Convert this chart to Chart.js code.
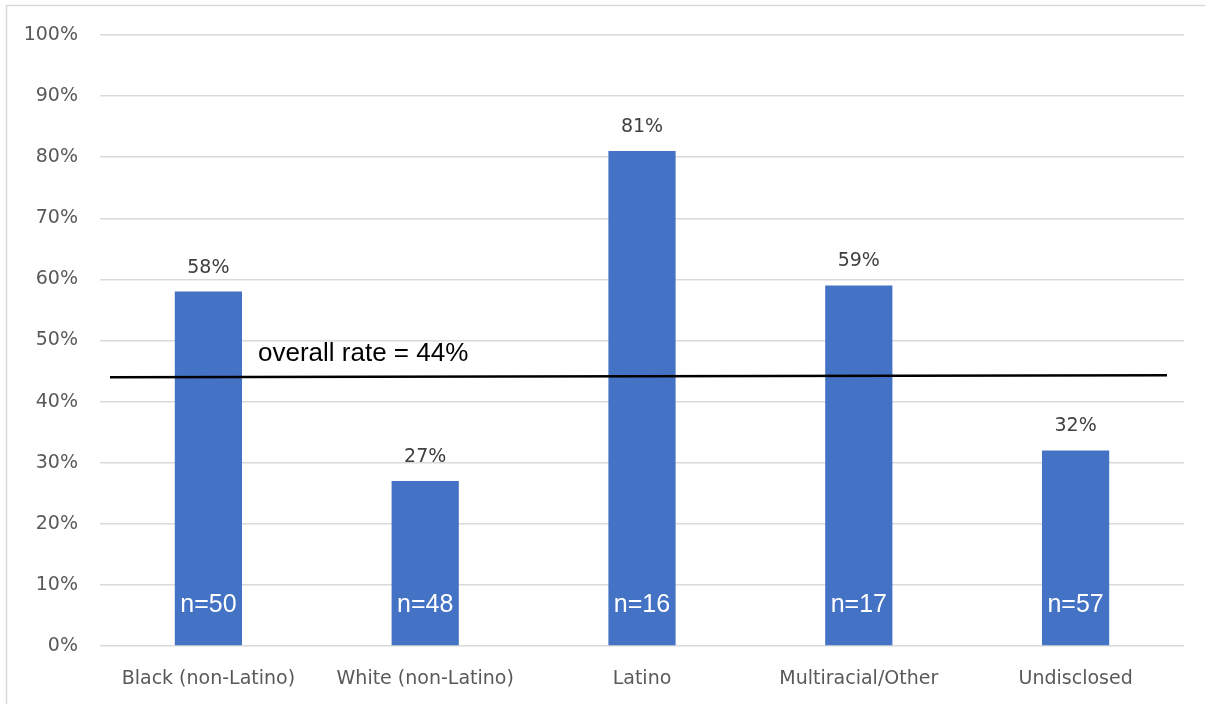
<!DOCTYPE html>
<html>
<head>
<meta charset="utf-8">
<script src="https://cdn.jsdelivr.net/npm/chart.js@4"></script>
<style>
  html, body { margin: 0; padding: 0; background: #fff; }
  #wrap { width: 1205px; height: 704px; position: relative; }
</style>
</head>
<body>
<div id="wrap"><canvas id="chartRate"></canvas></div>
<script>
// --- data ---
const groups = ['Black (non-Latino)', 'White (non-Latino)', 'Latino', 'Multiracial/Other', 'Undisclosed'];
const rates = [58, 27, 81, 59, 32];
const counts = [50, 48, 16, 17, 57];
const overallRate = 44;
const overallLine = [44, 44.3]; // garis agak miring di gambar asli
const yTicks = [0, 10, 20, 30, 40, 50, 60, 70, 80, 90, 100];

const tickFont = { family: 'DejaVu Sans', size: 19 };

// bingkai abu-abu, garis rata-rata, dan label
const extras = {
  id: 'extras',
  beforeDraw(chart) {
    const c = chart.ctx;
    c.save();
    c.strokeStyle = '#d9d9d9';
    c.lineWidth = 1.5;
    c.strokeRect(6.5, 5.5, 1300, 800);
    c.restore();
  },
  afterDatasetsDraw(chart) {
    const c = chart.ctx;
    const y = chart.scales.y;
    const meta = chart.getDatasetMeta(0);
    const area = chart.chartArea;
    c.save();
    // label persen di atas batang, n di dalam batang
    c.textAlign = 'center';
    c.textBaseline = 'middle';
    meta.data.forEach((bar, i) => {
      c.fillStyle = '#404040';
      c.font = '19px "DejaVu Sans"';
      c.fillText(rates[i] + '%', bar.x, bar.y - 24);
      c.fillStyle = '#ffffff';
      c.font = '25px "Liberation Sans"';
      c.fillText('n=' + counts[i], bar.x, y.getPixelForValue(0) - 41);
    });
    // garis overall
    c.strokeStyle = '#000000';
    c.lineWidth = 2.5;
    c.beginPath();
    c.moveTo(area.left + 10, y.getPixelForValue(overallLine[0]));
    c.lineTo(area.right - 17, y.getPixelForValue(overallLine[1]));
    c.stroke();
    c.fillStyle = '#000000';
    c.textAlign = 'left';
    c.font = '26px "Liberation Sans"';
    c.fillText('overall rate = ' + overallRate + '%', area.left + 158, y.getPixelForValue(overallRate) - 23);
    c.restore();
  }
};

new Chart(document.getElementById('chartRate'), {
  type: 'bar',
  data: {
    labels: groups,
    datasets: [{
      data: rates,
      backgroundColor: '#4472c4',
      borderWidth: 0,
      categoryPercentage: 1,
      barPercentage: 0.31
    }]
  },
  options: {
    responsive: true,
    maintainAspectRatio: false,
    animation: false,
    layout: { padding: { top: 35, right: 21, bottom: 0, left: 0 } },
    plugins: {
      legend: { display: false },
      tooltip: { enabled: false }
    },
    scales: {
      x: {
        afterFit(scale) { scale.height = 58; },
        grid: { display: false },
        border: { display: false },
        ticks: { color: '#595959', font: tickFont, padding: 14 }
      },
      y: {
        min: 0,
        max: 100,
        afterFit(scale) { scale.width = 100; },
        afterBuildTicks(scale) { scale.ticks = yTicks.map(v => ({ value: v })); },
        grid: { color: '#d9d9d9', lineWidth: 1.5, drawTicks: false },
        border: { display: false },
        ticks: {
          color: '#595959',
          font: tickFont,
          padding: 22,
          callback: v => v + '%'
        }
      }
    }
  },
  plugins: [extras]
});
</script>
</body>
</html>
